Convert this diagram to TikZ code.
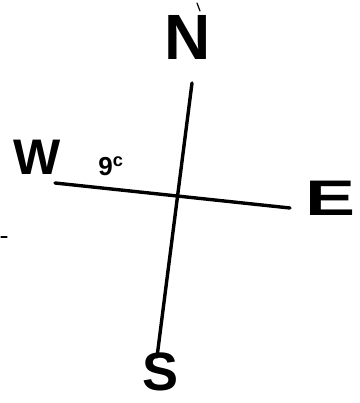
\documentclass[tikz,border=0pt]{standalone}
\usepackage{fontspec}
\setmainfont{Liberation Sans}
\usetikzlibrary{positioning}
\begin{document}
\begin{tikzpicture}[
    x=1pt, y=-1pt,
    >=latex
  ]

  \tikzset{
    axis/.style={line width=3.4pt, line cap=round, line join=round},
    speck/.style={line width=1.2pt, line cap=round},
    letter/.style={inner sep=0pt, text=black, font=\bfseries\fontsize{50}{50}\selectfont},
    note/.style={inner sep=0pt, text=black, font=\bfseries\fontsize{26}{26}\selectfont}
  }

  \useasboundingbox (0,0) rectangle (359,403);

  % ends of the two crossing strokes
  \coordinate (top) at (192,83);
  \coordinate (bot) at (157,357);
  \coordinate (lft) at (55,183);
  \coordinate (rgt) at (290,208);

  % compass letters
  \node (N) [letter, font=\bfseries\fontsize{64}{64}\selectfont] at (188,37) {N};
  \node (W) [letter] at (37,157) {W};
  \node (E) [letter, xscale=1.5] at (331,198) {E};
  \node (S) [letter, font=\bfseries\fontsize{54}{54}\selectfont] at (161,372) {S};
  \node (deg) [note] at (111,166) {9\textsuperscript{c}};

  % the cross
  \draw[axis] (top) -- (bot);
  \draw[axis] (lft) -- (rgt);

  % stray pencil marks
  \coordinate (m1) at (197,3);
  \coordinate (m2) at (200,11);
  \coordinate (m3) at (1,237);
  \coordinate (m4) at (7,237);
  \draw[speck] (m1) -- (m2);
  \draw[speck] (m3) -- (m4);

\end{tikzpicture}
\end{document}
